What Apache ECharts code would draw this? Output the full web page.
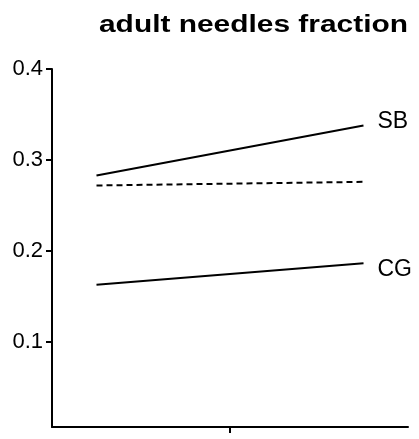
<!DOCTYPE html>
<html>
<head>
<meta charset="utf-8">
<script src="https://cdn.jsdelivr.net/npm/echarts@6/dist/echarts.min.js"></script>
<style>html,body{margin:0;padding:0;background:#fff;}#c{width:419px;height:439px;}</style>
</head>
<body>
<div id="c"></div>
<script>
var titleText = 'adult needles fraction';
var xPositions = [0.125, 0.875];
var xTicks = [0.5];
var yTicks = [0.1, 0.2, 0.3, 0.4];
var sbValues = [0.283, 0.338];
var refValues = [0.272, 0.276];
var cgValues = [0.163, 0.1865];
var seriesNames = ['SB', 'ref', 'CG'];

function pts(vals) { return xPositions.map(function (x, i) { return [x, vals[i]]; }); }

var font = 'Liberation Sans, Arial, sans-serif';
var chart = echarts.init(document.getElementById('c'), null, { renderer: 'canvas' });
chart.setOption({
  animation: false,
  backgroundColor: '#fff',
  graphic: [{
    type: 'text', x: 253.5, y: 25.5, scaleX: 1.3, scaleY: 1,
    style: { text: titleText, align: 'center', verticalAlign: 'middle',
      font: 'bold 23px ' + font, fill: '#000' }
  }],
  grid: { left: 52, right: 11, top: 69, bottom: 12, containLabel: false },
  xAxis: {
    type: 'value', min: 0, max: 1,
    axisLine: { show: true, lineStyle: { color: '#000', width: 2 } },
    axisTick: { show: true, customValues: xTicks, length: 6, lineStyle: { color: '#000', width: 2 } },
    axisLabel: { show: false },
    splitLine: { show: false }
  },
  yAxis: {
    type: 'value', min: 0.0066, max: 0.4,
    axisLine: { show: true, lineStyle: { color: '#000', width: 2 } },
    axisTick: { show: true, customValues: yTicks, length: 6, lineStyle: { color: '#000', width: 2 } },
    axisLabel: { show: true, customValues: yTicks, margin: 9, fontFamily: font, fontSize: 22, color: '#000',
      padding: [7, 0, 0, 0],
      formatter: function (v) { return v.toFixed(1); } },
    splitLine: { show: false }
  },
  series: [
    { name: seriesNames[0], type: 'line', data: pts(sbValues), showSymbol: false, symbol: 'none',
      lineStyle: { color: '#000', width: 2 },
      endLabel: { show: true, formatter: seriesNames[0], distance: 14, offset: [0, -4], fontFamily: font, fontSize: 23, color: '#000' } },
    { name: seriesNames[1], type: 'line', data: pts(refValues), showSymbol: false, symbol: 'none',
      lineStyle: { color: '#000', width: 2, type: [6, 4] } },
    { name: seriesNames[2], type: 'line', data: pts(cgValues), showSymbol: false, symbol: 'none',
      lineStyle: { color: '#000', width: 2 },
      endLabel: { show: true, formatter: seriesNames[2], distance: 14, offset: [0, 6], fontFamily: font, fontSize: 23, color: '#000' } }
  ]
});
</script>
</body>
</html>
